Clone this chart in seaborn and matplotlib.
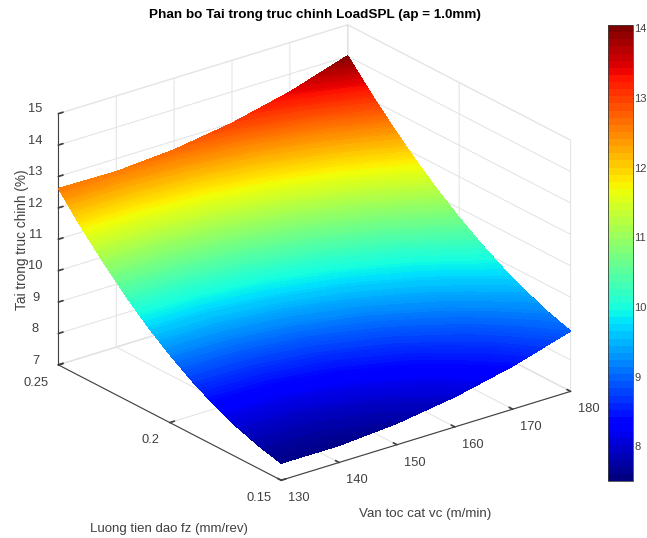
import numpy as np
import seaborn as sns
import matplotlib
matplotlib.use('Agg')
import matplotlib.pyplot as plt
from matplotlib.colors import Normalize
from matplotlib.cm import ScalarMappable
from mpl_toolkits.mplot3d import proj3d

vc = [130, 140, 150, 160, 170, 180]
fz = [0.15, 0.16, 0.17, 0.18, 0.19, 0.20, 0.21, 0.22, 0.23, 0.24, 0.25]

# load, one list per vc value (fz goes 0.15 -> 0.25)
load_130 = [7.54, 7.72, 7.97, 8.29, 8.69, 9.16, 9.70, 10.32, 11.02, 11.78, 12.62]
load_140 = [7.54, 7.73, 7.98, 8.31, 8.71, 9.18, 9.72, 10.33, 11.01, 11.77, 12.59]
load_150 = [7.68, 7.87, 8.14, 8.47, 8.87, 9.34, 9.88, 10.49, 11.16, 11.91, 12.72]
load_160 = [7.96, 8.16, 8.43, 8.77, 9.18, 9.65, 10.19, 10.79, 11.46, 12.20, 13.00]
load_170 = [8.37, 8.59, 8.87, 9.22, 9.63, 10.10, 10.64, 11.24, 11.91, 12.64, 13.43]
load_180 = [8.92, 9.15, 9.45, 9.80, 10.22, 10.70, 11.24, 11.84, 12.51, 13.23, 14.02]

z_ticks = [7, 8, 9, 10, 11, 12, 13, 14, 15]
fz_ticks = [0.15, 0.2, 0.25]
fz_tick_labels = ['0.15', '0.2', '0.25']
cbar_ticks = [8, 9, 10, 11, 12, 13, 14]
clim = (7.5, 14.05)

sns.set_theme(style='white', font='Liberation Sans')
W, H = 647, 538
text_col = '#404040'
grid_col = '#e2e2e2'

V, F = np.meshgrid(vc, fz, indexing='ij')
Z = np.array([load_130, load_140, load_150, load_160, load_170, load_180])

cmap = plt.get_cmap('jet', 64)
norm = Normalize(*clim)

fig = plt.figure(figsize=(W / 100, H / 100), dpi=100)
ax = fig.add_axes([38.2 / W, 9.2 / H, 538 / W, 538 / H], projection='3d')
ax.set_proj_type('ortho')
ax.view_init(elev=23.5, azim=-127.6)
ax.set_box_aspect((1, 1, 0.75), zoom=1.055)
ax.patch.set_alpha(0)

ax.plot_surface(V, F, Z, cmap=cmap, norm=norm, linewidth=0, antialiased=False)
ax.set_xlim(130, 180)
ax.set_ylim(0.15, 0.25)
ax.set_zlim(7, 15)
ax.set_xticks(vc)
ax.set_yticks(fz_ticks)
ax.set_yticklabels(fz_tick_labels)
ax.set_zticks(z_ticks)
ax.zaxis.set_ticks_position('upper')
ax.tick_params(labelsize=9.3, colors=text_col)
ax.tick_params(axis='x', pad=-1.5)
ax.tick_params(axis='y', pad=-1)
ax.tick_params(axis='z', pad=1)

for lab in ax.get_xticklabels():
    lab.set_ha('left')
for lab in ax.get_yticklabels():
    lab.set_ha('right')
for lab in ax.get_zticklabels():
    lab.set_va('baseline')

for axis in (ax.xaxis, ax.yaxis, ax.zaxis):
    axis.pane.set_facecolor((1, 1, 1, 0))
    axis.pane.set_edgecolor(grid_col)
    axis.line.set_color('#404040')
    axis.line.set_linewidth(0.8)
    axis._axinfo['grid']['color'] = grid_col
    axis._axinfo['grid']['linewidth'] = 0.7
    axis._axinfo['tick']['inward_factor'] = 0.0
    axis._axinfo['tick']['outward_factor'] = 0.2
    axis._axinfo['tick']['color'] = '#404040'

# the facets above are flat, so fill the same grid again with fine colour bands on top
fig.canvas.draw()
xp, yp, _ = proj3d.proj_transform(V.ravel(), F.ravel(), Z.ravel(), ax.get_proj())
pix = ax.transData.transform(np.column_stack([xp, yp]))
n_v, n_f = V.shape
tris = []
for i in range(n_v - 1):
    for j in range(n_f - 1):
        a = i * n_f + j
        tris.append([a, a + 1, a + n_f])
        tris.append([a + 1, a + n_f + 1, a + n_f])

top = fig.add_axes([0, 0, 1, 1])
top.set_xlim(0, W)
top.set_ylim(0, H)
top.axis('off')
top.tricontourf(pix[:, 0], pix[:, 1], np.array(tris), Z.ravel(), levels=np.linspace(clim[0], clim[1], 129),
                cmap='jet', norm=norm)

fig.text(314.5 / W, 1 - 15 / H, 'Phan bo Tai trong truc chinh LoadSPL (ap = 1.0mm)', ha='center', va='center',
         fontsize=9.7, fontweight='bold', color='black')
fig.text(425.5 / W, 1 - 514 / H, 'Van toc cat vc (m/min)', ha='center', va='center', fontsize=9.6, color=text_col)
fig.text(168.5 / W, 1 - 529 / H, 'Luong tien dao fz (mm/rev)', ha='center', va='center', fontsize=9.5,
         color=text_col)
fig.text(22.5 / W, 1 - 240 / H, 'Tai trong truc chinh (%)', ha='center', va='center', rotation=90, fontsize=9.8,
         color=text_col)

cax = fig.add_axes([608 / W, 1 - 481 / H, 25 / W, 456 / H])
cb = fig.colorbar(ScalarMappable(norm=norm, cmap=cmap), cax=cax)
cb.set_ticks(cbar_ticks)
cb.ax.tick_params(labelsize=8, colors=text_col, direction='in', length=3, width=0.6, right=True, pad=1)
cb.outline.set_edgecolor('#404040')
cb.outline.set_linewidth(0.6)

fig.savefig('out.png', dpi=100)
